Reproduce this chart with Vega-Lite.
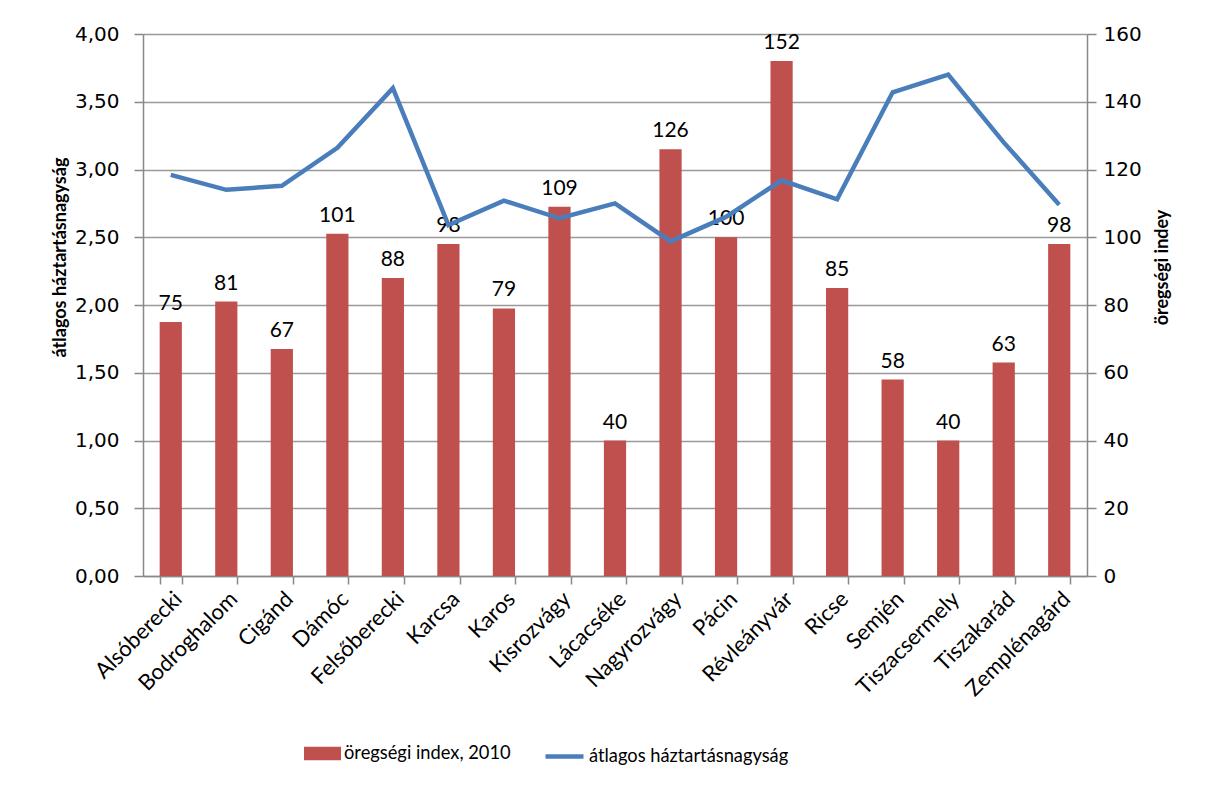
{
  "$schema": "https://vega.github.io/schema/vega-lite/v6.json",
  "width": 944,
  "height": 542,
  "autosize": {"type": "none"},
  "padding": {"left": 143, "top": 34, "right": 119, "bottom": 211},
  "background": "white",
  "config": {"font": "Lato", "view": {"stroke": null}},
  "data": {
    "values": [
      {"telepules": "Alsóberecki", "index": 75, "haztartas": 2.96},
      {"telepules": "Bodroghalom", "index": 81, "haztartas": 2.85},
      {"telepules": "Cigánd", "index": 67, "haztartas": 2.88},
      {"telepules": "Dámóc", "index": 101, "haztartas": 3.16},
      {"telepules": "Felsőberecki", "index": 88, "haztartas": 3.6},
      {"telepules": "Karcsa", "index": 98, "haztartas": 2.59},
      {"telepules": "Karos", "index": 79, "haztartas": 2.77},
      {"telepules": "Kisrozvágy", "index": 109, "haztartas": 2.64},
      {"telepules": "Lácacséke", "index": 40, "haztartas": 2.75},
      {"telepules": "Nagyrozvágy", "index": 126, "haztartas": 2.47},
      {"telepules": "Pácin", "index": 100, "haztartas": 2.65},
      {"telepules": "Révleányvár", "index": 152, "haztartas": 2.92},
      {"telepules": "Ricse", "index": 85, "haztartas": 2.78},
      {"telepules": "Semjén", "index": 58, "haztartas": 3.57},
      {"telepules": "Tiszacsermely", "index": 40, "haztartas": 3.7},
      {"telepules": "Tiszakarád", "index": 63, "haztartas": 3.2},
      {"telepules": "Zemplénagárd", "index": 98, "haztartas": 2.74}
    ]
  },
  "encoding": {
    "x": {
      "field": "telepules",
      "type": "nominal",
      "sort": null,
      "scale": {"paddingInner": 0.6, "paddingOuter": 0.3},
      "axis": {
        "title": null,
        "labelAngle": -45,
        "labelFontSize": 22,
        "labelColor": "black",
        "labelPadding": 4,
        "tickBand": "extent",
        "tickSize": 8,
        "tickColor": "#888888",
        "domainColor": "#888888",
        "domainWidth": 1.5,
        "tickWidth": 1.5
      }
    }
  },
  "layer": [
    {
      "mark": {"type": "bar", "color": "#C0504D"},
      "encoding": {
        "y": {
          "field": "index",
          "type": "quantitative",
          "scale": {"domain": [0, 160]},
          "axis": {
            "orient": "right",
            "values": [0, 20, 40, 60, 80, 100, 120, 140, 160],
            "grid": false,
            "title": "öregségi indey",
            "titleAngle": -90,
            "titleY": 233,
            "titleFontSize": 18,
            "titleFontWeight": "bold",
            "titleColor": "black",
            "titlePadding": 30,
            "labelFont": "DejaVu Sans",
            "labelFontSize": 20,
            "labelColor": "black",
            "labelPadding": 7,
            "tickSize": 9,
            "tickColor": "#888888",
            "domainColor": "#888888",
            "domainWidth": 1.5,
            "tickWidth": 1.5
          }
        },
        "fill": {
          "datum": "öregségi index, 2010",
          "scale": {"range": ["#C0504D"]},
          "legend": {
            "orient": "none",
            "legendX": 161,
            "legendY": 701,
            "title": null,
            "symbolType": "M-1,-0.36H1V0.36H-1Z",
            "symbolSize": 1369,
            "symbolStrokeWidth": 0,
            "labelFontSize": 18.3,
            "labelColor": "black",
            "labelOffset": 3,
            "labelLimit": 400
          }
        }
      }
    },
    {
      "mark": {"type": "text", "fontSize": 21, "baseline": "bottom", "dy": -8, "color": "black"},
      "encoding": {
        "y": {"field": "index", "type": "quantitative", "scale": {"domain": [0, 160]}, "axis": null},
        "text": {"field": "index", "type": "quantitative"}
      }
    },
    {
      "mark": {"type": "line", "strokeWidth": 4.5},
      "encoding": {
        "y": {
          "field": "haztartas",
          "type": "quantitative",
          "scale": {"domain": [0, 4]},
          "axis": {
            "orient": "left",
            "values": [0, 0.5, 1, 1.5, 2, 2.5, 3, 3.5, 4],
            "labelExpr": "replace(format(datum.value, '.2f'), '.', ',')",
            "grid": true,
            "gridColor": "#999999",
            "gridWidth": 1.5,
            "title": "átlagos háztartásnagyság",
            "titleY": 223,
            "titleFontSize": 18,
            "titleFontWeight": "bold",
            "titleColor": "black",
            "titlePadding": 5,
            "labelFont": "DejaVu Sans",
            "labelFontSize": 20,
            "labelColor": "black",
            "labelPadding": 15,
            "tickSize": 9,
            "tickColor": "#888888",
            "domainColor": "#888888",
            "domainWidth": 1.5,
            "tickWidth": 1.5
          }
        },
        "stroke": {
          "datum": "átlagos háztartásnagyság",
          "scale": {"range": ["#4A7EBB"]},
          "legend": {
            "orient": "none",
            "legendX": 400,
            "legendY": 701,
            "title": null,
            "symbolType": "stroke",
            "symbolSize": 1444,
            "symbolStrokeWidth": 4.5,
            "labelFontSize": 18.3,
            "labelColor": "black",
            "labelOffset": 3,
            "labelLimit": 400
          }
        }
      }
    }
  ],
  "resolve": {"scale": {"y": "independent"}}
}
